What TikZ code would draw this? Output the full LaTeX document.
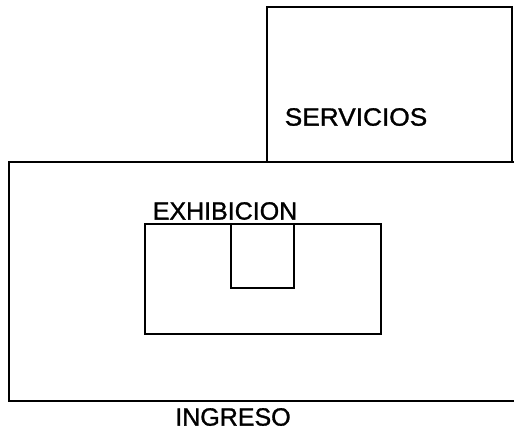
\documentclass[tikz,border=0pt]{standalone}
\usepackage{fontspec}
\setmainfont{Liberation Sans}[FakeBold=1.2]
\begin{document}
\begin{tikzpicture}[x=1pt,y=-1pt,
  wall/.style={line width=2.8pt,line cap=rect,line join=miter},
  lbl/.style={font=\fontsize{25}{25}\selectfont,inner sep=0pt}]
\useasboundingbox (0,0) rectangle (514,431);
% servicios block (open at bottom, shares wall)
\draw[wall] (267,162) -- (267,7) -- (512,7) -- (512,162);
% main hall (open on the right)
\draw[wall] (513,162) -- (9,162) -- (9,401) -- (514,401);
% exhibicion
\draw[wall] (145,224) rectangle (381,334);
\draw[wall] (231,224) rectangle (294,288);
\node[lbl,xscale=1.05] (serv) at (356,117) {SERVICIOS};
\node[lbl] (exh) at (225,211) {EXHIBICION};
\node[lbl] (ing) at (233,417) {INGRESO};
\end{tikzpicture}
\end{document}
